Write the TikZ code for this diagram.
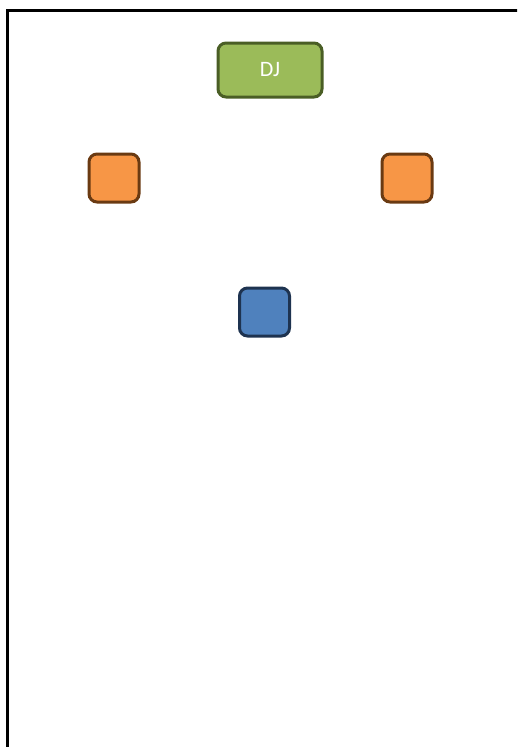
\documentclass[tikz,border=0pt]{standalone}
\usepackage{fontspec}
\setmainfont{Carlito}
\definecolor{djfill}{HTML}{9BBB59}
\definecolor{djdraw}{HTML}{4A5E25}
\definecolor{orfill}{HTML}{F79646}
\definecolor{ordraw}{HTML}{6A3A12}
\definecolor{blfill}{HTML}{4F81BD}
\definecolor{bldraw}{HTML}{1E3350}
\begin{document}
\begin{tikzpicture}[x=1pt,y=-1pt,
  box/.style={rounded corners=8pt,line width=3pt,inner sep=0pt},
  djbox/.style={box,fill=djfill,draw=djdraw,minimum width=104pt,minimum height=54pt},
  spk/.style={box,fill=orfill,draw=ordraw,minimum width=50pt,minimum height=48pt},
  dancer/.style={box,fill=blfill,draw=bldraw,minimum width=50pt,minimum height=48pt}]
\useasboundingbox (0,0) rectangle (517,747);
\clip (0,0) rectangle (517,747);
\draw[line width=3pt] (7,760) -- (7,10) -- (530,10);
\node[djbox,text=white,font=\fontsize{22}{24}\selectfont] (dj) at (270,70) {DJ};
\node[spk] (sl) at (114,178) {};
\node[spk] (sr) at (407,178) {};
\node[dancer] (d) at (264.5,312) {};
\end{tikzpicture}
\end{document}
